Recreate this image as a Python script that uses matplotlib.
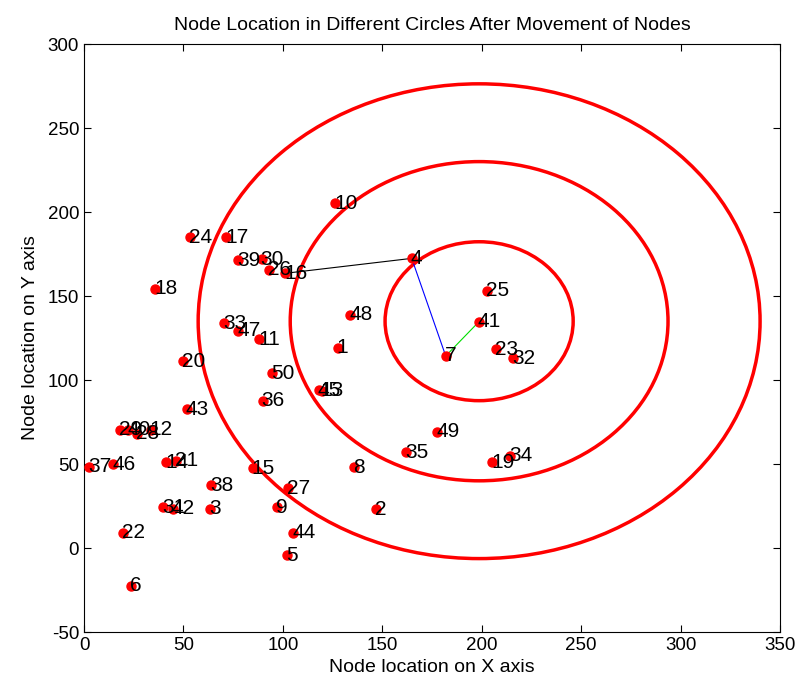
import matplotlib
matplotlib.use("Agg")
import matplotlib.pyplot as plt
from matplotlib.patches import Circle
import numpy as np

plt.rcParams['font.family'] = ['Liberation Sans', 'DejaVu Sans']
plt.rcParams['axes.unicode_minus'] = False

node_ids = list(range(1, 51))
node_x = [127.6, 146.8, 63.4, 164.8, 102.2, 23.5, 181.9, 135.8, 96.9, 126.2,
          88.2, 33.5, 119.5, 41.2, 84.8, 101.1, 71.4, 35.7, 205.3, 49.9,
          46.3, 19.4, 207.0, 53.3, 202.8, 93.0, 102.8, 26.5, 18.1, 89.3,
          39.9, 215.9, 70.4, 214.2, 161.8, 89.8, 2.7, 63.9, 77.6, 22.3,
          198.6, 44.6, 51.6, 105.3, 118.0, 14.8, 77.6, 133.8, 177.7, 94.7]
node_y = [119.2, 23.2, 23.4, 172.4, -4.2, -22.6, 114.3, 48.2, 24.2, 205.2,
          124.2, 70.5, 93.5, 51.0, 47.4, 163.5, 185.0, 154.2, 51.0, 111.3,
          51.8, 9.1, 118.3, 185.0, 153.2, 165.5, 35.5, 68.0, 70.5, 171.8,
          24.2, 112.9, 133.7, 54.9, 57.0, 87.7, 48.4, 37.5, 171.4, 70.5,
          134.7, 23.4, 82.6, 9.1, 94.0, 50.0, 129.4, 138.7, 69.2, 104.0]

circle_center = (198.7, 135.0)
circle_radii = [47.3, 95.0, 141.3]

path_nodes = [16, 4, 7, 41]
path_colors = ['black', 'blue', '#00dd00']

fig = plt.figure(figsize=(7.98, 6.92), dpi=100)
ax = fig.add_axes([0.1053, 0.0867, 0.8721, 0.8497])

for r in circle_radii:
    ax.add_patch(Circle(circle_center, r, fill=False, edgecolor='red', lw=2.5, zorder=2))

for i in range(len(path_nodes) - 1):
    a, b = path_nodes[i] - 1, path_nodes[i + 1] - 1
    ax.plot([node_x[a], node_x[b]], [node_y[a], node_y[b]],
            color=path_colors[i], lw=0.8, zorder=3)

ax.plot(node_x, node_y, 'o', color='red', markersize=6.5, zorder=4)
for nid, x, y in zip(node_ids, node_x, node_y):
    ax.text(x - 0.5, y, str(nid), fontsize=15, ha='left', va='center', zorder=5)

ax.set_xlim(0, 350)
ax.set_ylim(-50, 300)
ax.set_xticks(np.arange(0, 351, 50))
ax.set_yticks(np.arange(-50, 301, 50))
ax.tick_params(direction='in', top=True, right=True, labelsize=13.5, length=5)
ax.set_title('Node Location in Different Circles After Movement of Nodes', fontsize=14, pad=10)
ax.set_xlabel('Node location on X axis', fontsize=14, labelpad=4)
ax.set_ylabel('Node location on Y axis', fontsize=14, labelpad=6)

fig.savefig('out.png', dpi=100)
